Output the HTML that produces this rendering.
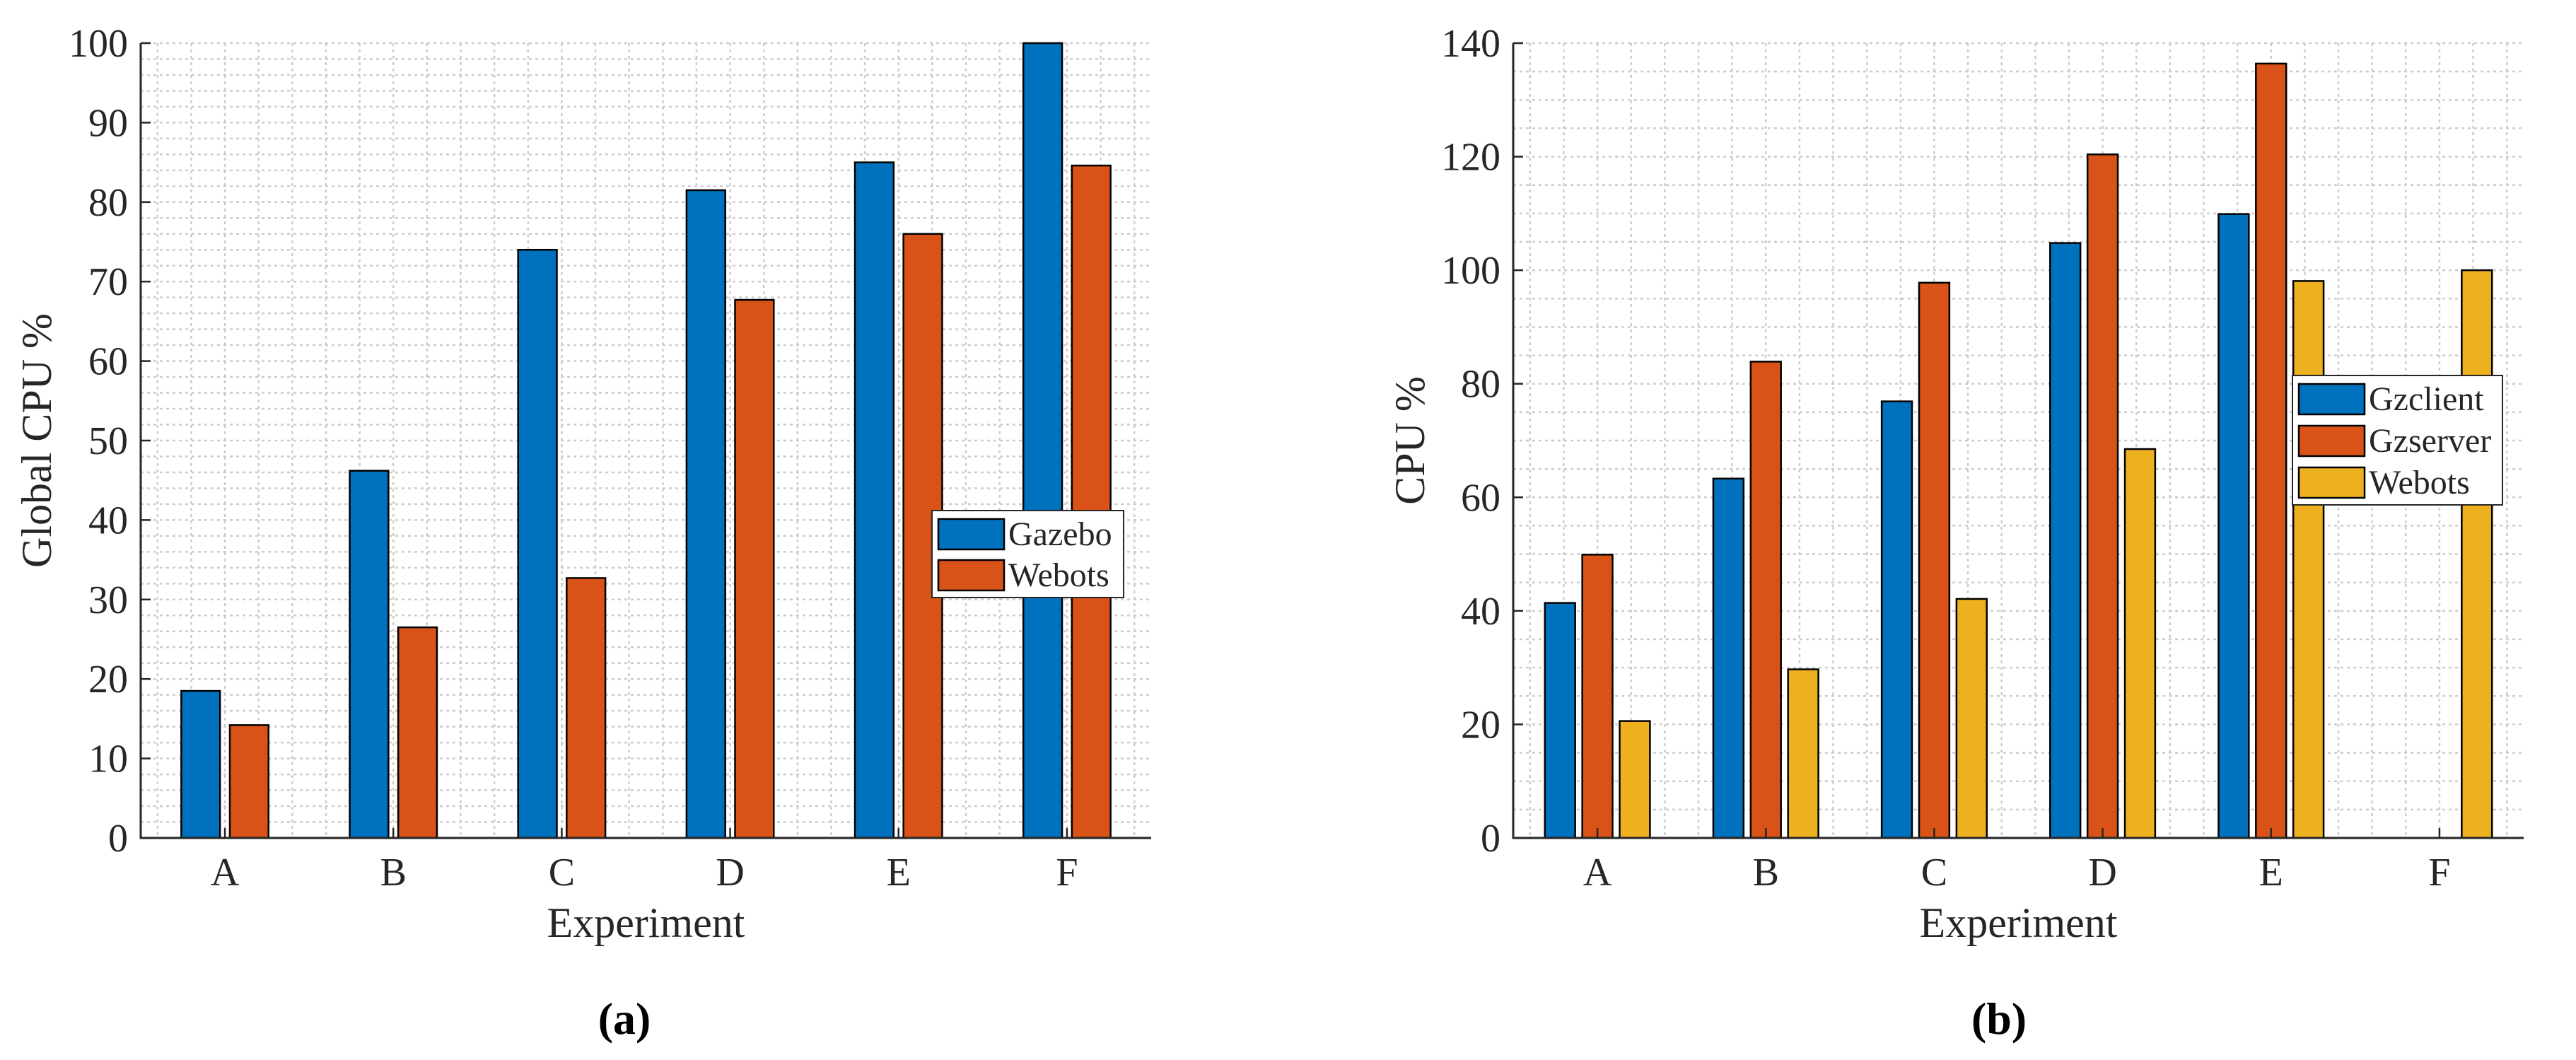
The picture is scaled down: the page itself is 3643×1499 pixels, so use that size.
<!DOCTYPE html>
<html><head><meta charset="utf-8">
<style>
html,body{margin:0;padding:0;background:#fff;}
svg{display:block;}
text{font-family:"Liberation Serif",serif;fill:#262626;}
.cap{font-family:"Liberation Serif",serif;font-weight:bold;fill:#000;}
</style></head>
<body>
<svg id="fig" width="3643" height="1499" viewBox="0 0 3643 1499" xmlns="http://www.w3.org/2000/svg">
<g id="chartA"></g>
<g id="chartB"></g>
<text class="cap" x="883" y="1462" font-size="64" text-anchor="middle">(a)</text>
<text class="cap" x="2827" y="1462" font-size="64" text-anchor="middle">(b)</text>
</svg>
<script>
const categories = ["A","B","C","D","E","F"];
const seriesNamesA = ["Gazebo","Webots"];
const gazeboA = [18.5, 46.2, 74.0, 81.5, 85.0, 100.0];
const webotsA = [14.2, 26.5, 32.7, 67.7, 76.0, 84.6];
const yTicksA = [0,10,20,30,40,50,60,70,80,90,100];
const seriesNamesB = ["Gzclient","Gzserver","Webots"];
const gzclientB = [41.4, 63.3, 76.9, 104.8, 109.9, 0];
const gzserverB = [49.9, 83.9, 97.8, 120.4, 136.4, 0];
const webotsB = [20.6, 29.7, 42.1, 68.5, 98.1, 100.0];
const yTicksB = [0,20,40,60,80,100,120,140];
const colors = ["#0072BD","#D95319","#EDB120"];

const NS = "http://www.w3.org/2000/svg";
function mk(parent, tag, attrs, txt){
  const e = document.createElementNS(NS, tag);
  for (const k in attrs) e.setAttribute(k, attrs[k]);
  if (txt !== undefined) e.textContent = txt;
  parent.appendChild(e);
  return e;
}

function drawChart(g, cfg){
  const L=cfg.left, R=cfg.right, T=61, B=1185;
  const xs = c => L + (c + 0.5) / 6 * (R - L);
  const ys = v => B - v / cfg.ymax * (B - T);
  const grid = mk(g, "g", {stroke:"#cccccc","stroke-width":2.5,"stroke-dasharray":"4 5",fill:"none"});
  
  
  for (let k=-2; k<=32; k++){
    const x = xs(-0.4 + k*0.2);
    if (x <= L+2 || x >= R) continue;
    mk(grid, "line", {x1:x, y1:T, x2:x, y2:B});
  }
  for (let v=cfg.minor; v<=cfg.ymax; v+=cfg.minor){
    const y = ys(v);
    mk(grid, "line", {x1:L, y1:y, x2:R, y2:y});
  }
  const n = cfg.series.length;
  for (let s=0; s<n; s++){
    const off = (s - (n-1)/2) * cfg.step;
    cfg.series[s].forEach((v,i)=>{
      const cx = xs(i + off);
      const bw = cfg.bw * (R-L)/6;
      const y = ys(v);
      const r = mk(g, "rect", {x:cx-bw/2, y:y, width:bw, height:Math.max(B-y,0.1), fill:colors[s], stroke:"#000","stroke-width":2.5});
      
      
    });
  }
  const ax = mk(g, "path", {d:`M${L},${T} L${L},${B} L${R},${B}`, stroke:"#262626","stroke-width":3,fill:"none"});
  
  
  cfg.yticks.forEach(v=>{
    const y = ys(v);
    mk(g, "line", {x1:L, y1:y, x2:L+14, y2:y, stroke:"#262626","stroke-width":2.5});
    const t = mk(g, "text", {x:L-18, y:y+19, "font-size":56, "text-anchor":"end"}, String(v));
    
    
  });
  categories.forEach((c,i)=>{
    const x = xs(i);
    mk(g, "line", {x1:x, y1:B, x2:x, y2:B-14, stroke:"#262626","stroke-width":2.5});
    const t = mk(g, "text", {x:x, y:1252, "font-size":56, "text-anchor":"middle"}, c);
    
    
  });
  const xt = mk(g, "text", {x:(L+R)/2, y:1325, "font-size":60, "text-anchor":"middle"}, "Experiment");
  
  
  const yt = mk(g, "text", {x:0, y:0, "font-size":60, "text-anchor":"middle", transform:`translate(${cfg.ytx},${cfg.yty}) rotate(-90)`}, cfg.ytitle);
  
  
  const lg = mk(g, "g", {});
  
  
  const lb = cfg.legend;
  mk(lg, "rect", {x:lb.x, y:lb.y, width:lb.w, height:lb.h, fill:"#fff", stroke:"#262626","stroke-width":2});
  cfg.names.forEach((nm,s)=>{
    const yy = lb.y + 12 + s*lb.row;
    const sw = mk(lg, "rect", {x:lb.x+9, y:yy, width:93, height:43, fill:colors[s], stroke:"#000","stroke-width":2.5});
    
    
    const t = mk(lg, "text", {x:lb.x+108, y:yy+37, "font-size":48}, nm);
    
    
  });
}

drawChart(document.getElementById("chartA"), {
  left:199, right:1628, ymax:100, minor:2, yticks:yTicksA,
  series:[gazeboA, webotsA], names:seriesNamesA, step:0.288, bw:0.23,
  ytitle:"Global CPU %", ytx:72, yty:623,
  legend:{x:1318, y:722, w:271, h:123, row:58}
});
drawChart(document.getElementById("chartB"), {
  left:2140, right:3569, ymax:140, minor:5, yticks:yTicksB,
  series:[gzclientB, gzserverB, webotsB], names:seriesNamesB, step:0.222, bw:0.18,
  ytitle:"CPU %", ytx:2014, yty:623,
  legend:{x:3242, y:531, w:297, h:183, row:59}
});
</script>
</body></html>
